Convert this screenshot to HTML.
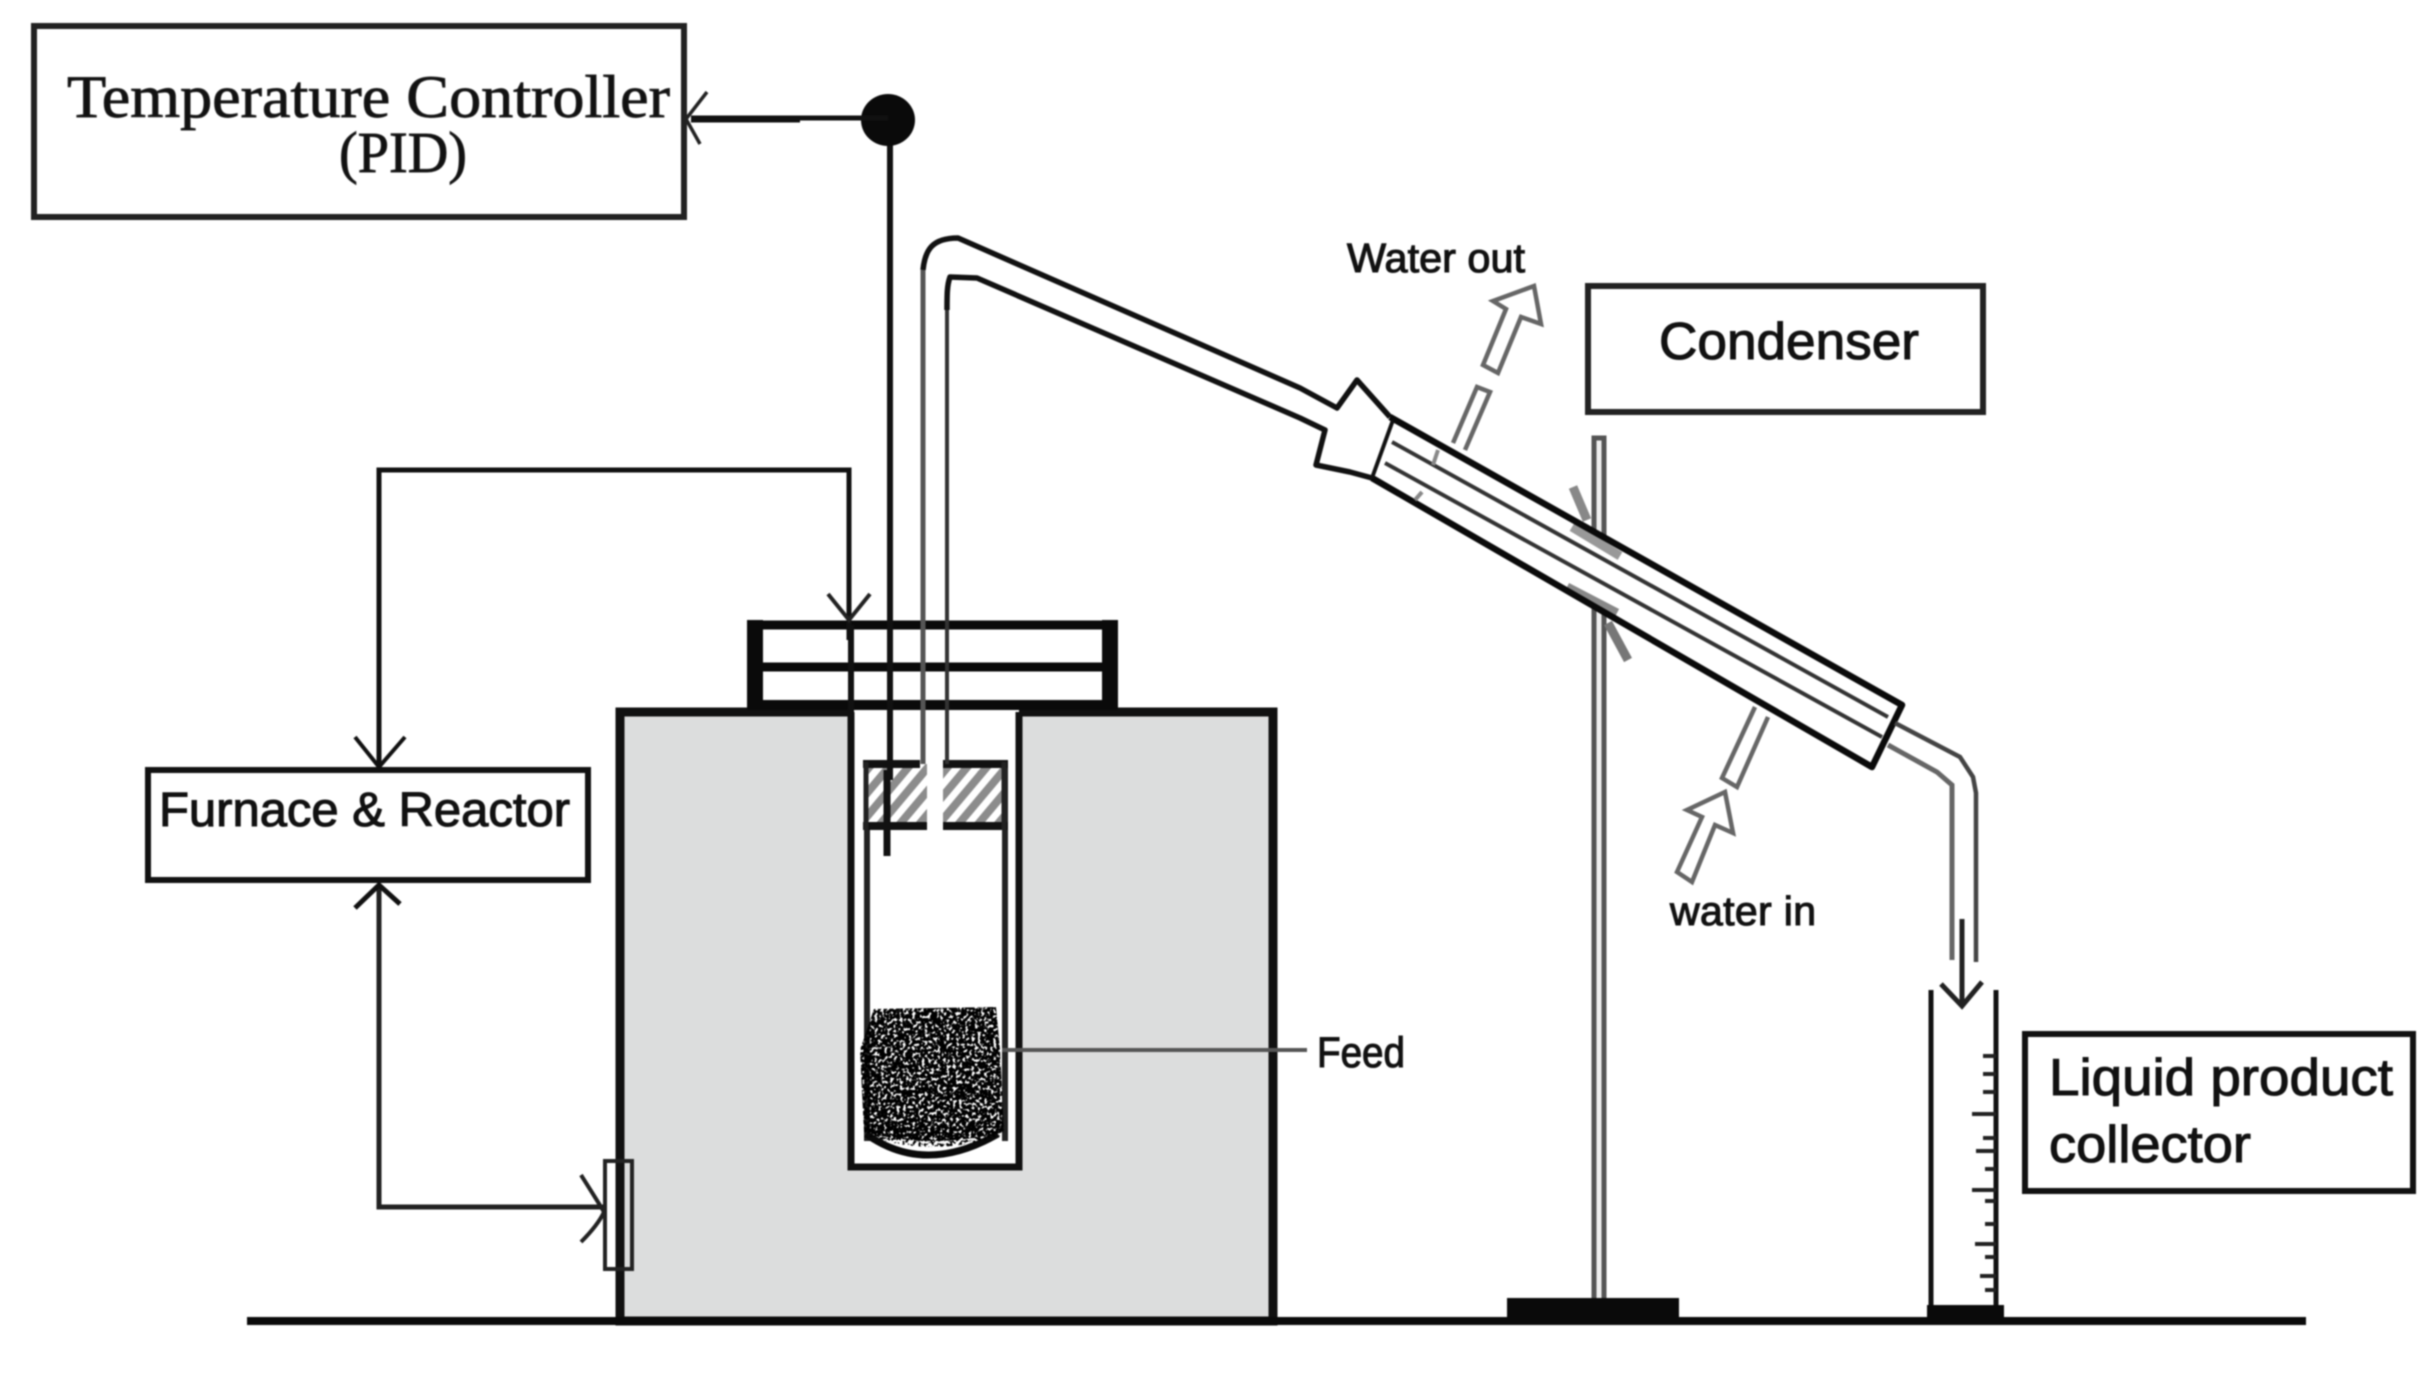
<!DOCTYPE html>
<html><head><meta charset="utf-8"><title>Pyrolysis apparatus</title>
<style>
html,body{margin:0;padding:0;background:#fff;width:2436px;height:1380px;overflow:hidden}
svg{display:block;filter:blur(.8px)}
text{fill:#111}
.s{font-family:"Liberation Sans",sans-serif;stroke:#111;stroke-width:1.1}
.t{font-family:"Liberation Serif",serif;stroke:#222;stroke-width:.9}
</style></head><body>
<svg width="2436" height="1380" viewBox="0 0 2436 1380" xmlns="http://www.w3.org/2000/svg">
<defs>
<pattern id="h" width="15" height="15" patternUnits="userSpaceOnUse" patternTransform="rotate(40)"><rect width="15" height="15" fill="#fff"/><rect width="8" height="15" fill="#8c8c8c"/></pattern>
<filter id="sp" x="0" y="0" width="100%" height="100%" color-interpolation-filters="sRGB"><feTurbulence type="fractalNoise" baseFrequency="0.32" numOctaves="2" seed="4" result="n"/><feColorMatrix in="n" type="matrix" values="0 0 0 0 0  0 0 0 0 0  0 0 0 0 0  10 0 0 0 -3.6"/><feComposite in2="SourceAlpha" operator="in"/></filter>
<filter id="sp2" x="0" y="0" width="100%" height="100%" color-interpolation-filters="sRGB"><feTurbulence type="fractalNoise" baseFrequency="0.32" numOctaves="2" seed="9" result="n"/><feColorMatrix in="n" type="matrix" values="0 0 0 0 0  0 0 0 0 0  0 0 0 0 0  10 0 0 0 -5"/><feComposite in2="SourceAlpha" operator="in"/></filter>
</defs>

<!-- furnace -->
<rect x="620" y="712" width="653" height="609" fill="#dcdddd" stroke="#111" stroke-width="9"/>
<!-- lid -->
<rect x="755" y="625" width="355" height="80" fill="#fff"/>
<path d="M747 625H1117M755 667H1103" stroke="#0a0a0a" stroke-width="9" fill="none"/>
<path d="M755 620V710M1110 620V710" stroke="#0a0a0a" stroke-width="16"/>
<path d="M747 705H1117" stroke="#0a0a0a" stroke-width="10"/>
<!-- well -->
<rect x="851" y="710" width="168" height="457" fill="#fff"/>
<path d="M851 712V1167H1019V712" fill="none" stroke="#111" stroke-width="7"/>
<path d="M867 762V1141M1005 762V1141" fill="none" stroke="#222" stroke-width="6"/>
<!-- plug -->
<rect x="866" y="764" width="61" height="62" fill="url(#h)"/>
<rect x="943" y="764" width="60" height="62" fill="url(#h)"/>
<path d="M863 764H920M943 764H1008M863 826H927M943 826H1008" stroke="#111" stroke-width="8"/>
<path d="M866 762V830M1004 762V830" stroke="#222" stroke-width="5"/>
<!-- feed -->
<path d="M866 1134Q925 1176 998 1134" fill="none" stroke="#0a0a0a" stroke-width="7"/>
<path d="M874 1009L996 1007L1000 1050L1004 1132Q930 1150 864 1132L860 1050Z" fill="#000" filter="url(#sp)"/>
<path d="M866 1126L1002 1126L1000 1136Q930 1158 868 1136Z" fill="#000" filter="url(#sp2)"/>
<path d="M1002 1050H1307" stroke="#555" stroke-width="4"/>

<!-- thermocouple and pipes -->
<path d="M923 270C925 250 932 238 958 238L1300 388L1337 408L1357 380L1390 417M1372 478L1350 472L1316 465L1325 430L1300 418L977 278L950 277C947 285 947 295 947 310" fill="none" stroke="#111" stroke-width="5.5" stroke-linejoin="round"/>
<path d="M923 270V764" fill="none" stroke="#555" stroke-width="5"/>
<path d="M947 310V764" fill="none" stroke="#333" stroke-width="4"/>
<path d="M890 125V780" fill="none" stroke="#111" stroke-width="6"/>
<path d="M887 770V856" fill="none" stroke="#111" stroke-width="7"/>
<ellipse cx="888" cy="120" rx="27" ry="26" fill="#0a0a0a"/>
<path d="M691 119H800" stroke="#111" stroke-width="7"/><path d="M800 118H888" stroke="#111" stroke-width="5"/>
<path d="M707 92L686 119L700 144" fill="none" stroke="#222" stroke-width="3.5"/>

<!-- temp box -->
<rect x="34" y="26" width="650" height="191" fill="none" stroke="#222" stroke-width="6"/>
<text class="t" x="67" y="117" font-size="60" textLength="603" lengthAdjust="spacingAndGlyphs">Temperature Controller</text>
<text class="t" x="339" y="172" font-size="58" textLength="128" lengthAdjust="spacingAndGlyphs">(PID)</text>

<!-- furnace wiring -->
<path d="M379 767V470H849V640" fill="none" stroke="#111" stroke-width="5"/>
<path d="M851 625V715" stroke="#111" stroke-width="6"/>
<path d="M828 594L849 620L870 594" fill="none" stroke="#222" stroke-width="4"/>
<rect x="148" y="770" width="440" height="110" fill="#fff" stroke="#111" stroke-width="6"/>
<path d="M355 737L379 767L405 737" fill="none" stroke="#111" stroke-width="4"/>
<path d="M379 885V1207H604" fill="none" stroke="#222" stroke-width="5"/>
<path d="M355 908L379 885L400 904" fill="none" stroke="#111" stroke-width="5"/>
<path d="M581 1175Q600 1205 604 1212Q598 1225 581 1242" fill="none" stroke="#222" stroke-width="4"/>
<rect x="605" y="1161" width="27" height="108" fill="none" stroke="#222" stroke-width="4"/>
<text class="s" x="159" y="826" font-size="48" textLength="411" lengthAdjust="spacingAndGlyphs">Furnace &amp; Reactor</text>

<!-- stand -->
<rect x="1594" y="438" width="10" height="862" fill="#f0f0f0"/>
<path d="M1594 1300V438H1604V1300" fill="none" stroke="#555" stroke-width="5"/>
<rect x="1507" y="1298" width="172" height="24" fill="#0a0a0a"/>

<!-- condenser -->
<path d="M1573 487L1587 520" stroke="#888" stroke-width="9"/>
<path d="M1608 623L1628 660" stroke="#777" stroke-width="9"/>
<path d="M1390 417L1902 705L1872 767L1372 478Z" fill="#fff"/>
<path d="M1453 443L1477 387L1490 392L1465 450" fill="#fff" stroke="#666" stroke-width="4.5"/>
<path d="M1755 707L1722 778L1737 787L1768 717" fill="#fff" stroke="#666" stroke-width="4.5"/>
<path d="M1392 442L1888 717M1385 463L1882 737" fill="none" stroke="#333" stroke-width="4"/>
<path d="M1572 527L1620 556" stroke="#999" stroke-width="9"/>
<path d="M1567 587L1617 613" stroke="#888" stroke-width="9"/>
<path d="M1390 417L1902 705L1872 767L1372 478" fill="none" stroke="#0a0a0a" stroke-width="6.5" stroke-linejoin="round"/>
<path d="M1393 420L1372 478" stroke="#111" stroke-width="4"/>
<path d="M1438 450L1433 465M1422 492L1415 500" stroke="#888" stroke-width="4"/>
<path d="M1895 723L1960 757L1973 777L1976 793V962" fill="none" stroke="#444" stroke-width="4.5"/>
<path d="M1888 745L1937 772L1952 785V960" fill="none" stroke="#666" stroke-width="5"/>

<!-- flow arrows -->
<path d="M1483 365L1506 309L1493 301L1534 286L1541 324L1521 317L1498 373Z" fill="#fff" stroke="#666" stroke-width="4.5"/>
<path d="M1677 872L1702 817L1687 810L1725 792L1733 833L1715 825L1692 882Z" fill="#fff" stroke="#666" stroke-width="4.5"/>

<!-- condenser label -->
<rect x="1588" y="286" width="395" height="126" fill="#fff" stroke="#222" stroke-width="6"/>
<text class="s" x="1659" y="359" font-size="52" textLength="260" lengthAdjust="spacingAndGlyphs">Condenser</text>
<text class="s" x="1347" y="272" font-size="41" textLength="178" lengthAdjust="spacingAndGlyphs">Water out</text>
<text class="s" x="1670" y="925" font-size="41" textLength="146">water in</text>
<text class="s" x="1317" y="1067" font-size="43" textLength="88" lengthAdjust="spacingAndGlyphs">Feed</text>

<!-- collector -->
<path d="M1931 990V1305M1996 990V1305" fill="none" stroke="#111" stroke-width="5"/>
<path d="M1983 1056H1996M1983 1074H1996M1983 1092H1996M1972 1114H1996M1983 1138H1996M1976 1151H1996M1985 1169H1996M1972 1190H1996M1985 1201H1996M1985 1224H1996M1975 1244H1996M1985 1257H1996M1980 1276H1996M1985 1290H1996" stroke="#222" stroke-width="4"/>
<rect x="1927" y="1305" width="77" height="16" fill="#0a0a0a"/>
<path d="M1962 919V1004" stroke="#222" stroke-width="5"/>
<path d="M1941 984L1962 1006L1982 982" fill="none" stroke="#222" stroke-width="5"/>
<rect x="2025" y="1034" width="388" height="157" fill="#fff" stroke="#111" stroke-width="6"/>
<text class="s" x="2049" y="1095" font-size="52" textLength="344" lengthAdjust="spacingAndGlyphs">Liquid product</text>
<text class="s" x="2049" y="1162" font-size="52" textLength="202" lengthAdjust="spacingAndGlyphs">collector</text>

<!-- ground -->
<path d="M247 1321H2306" stroke="#0a0a0a" stroke-width="8"/>
</svg>
</body></html>
